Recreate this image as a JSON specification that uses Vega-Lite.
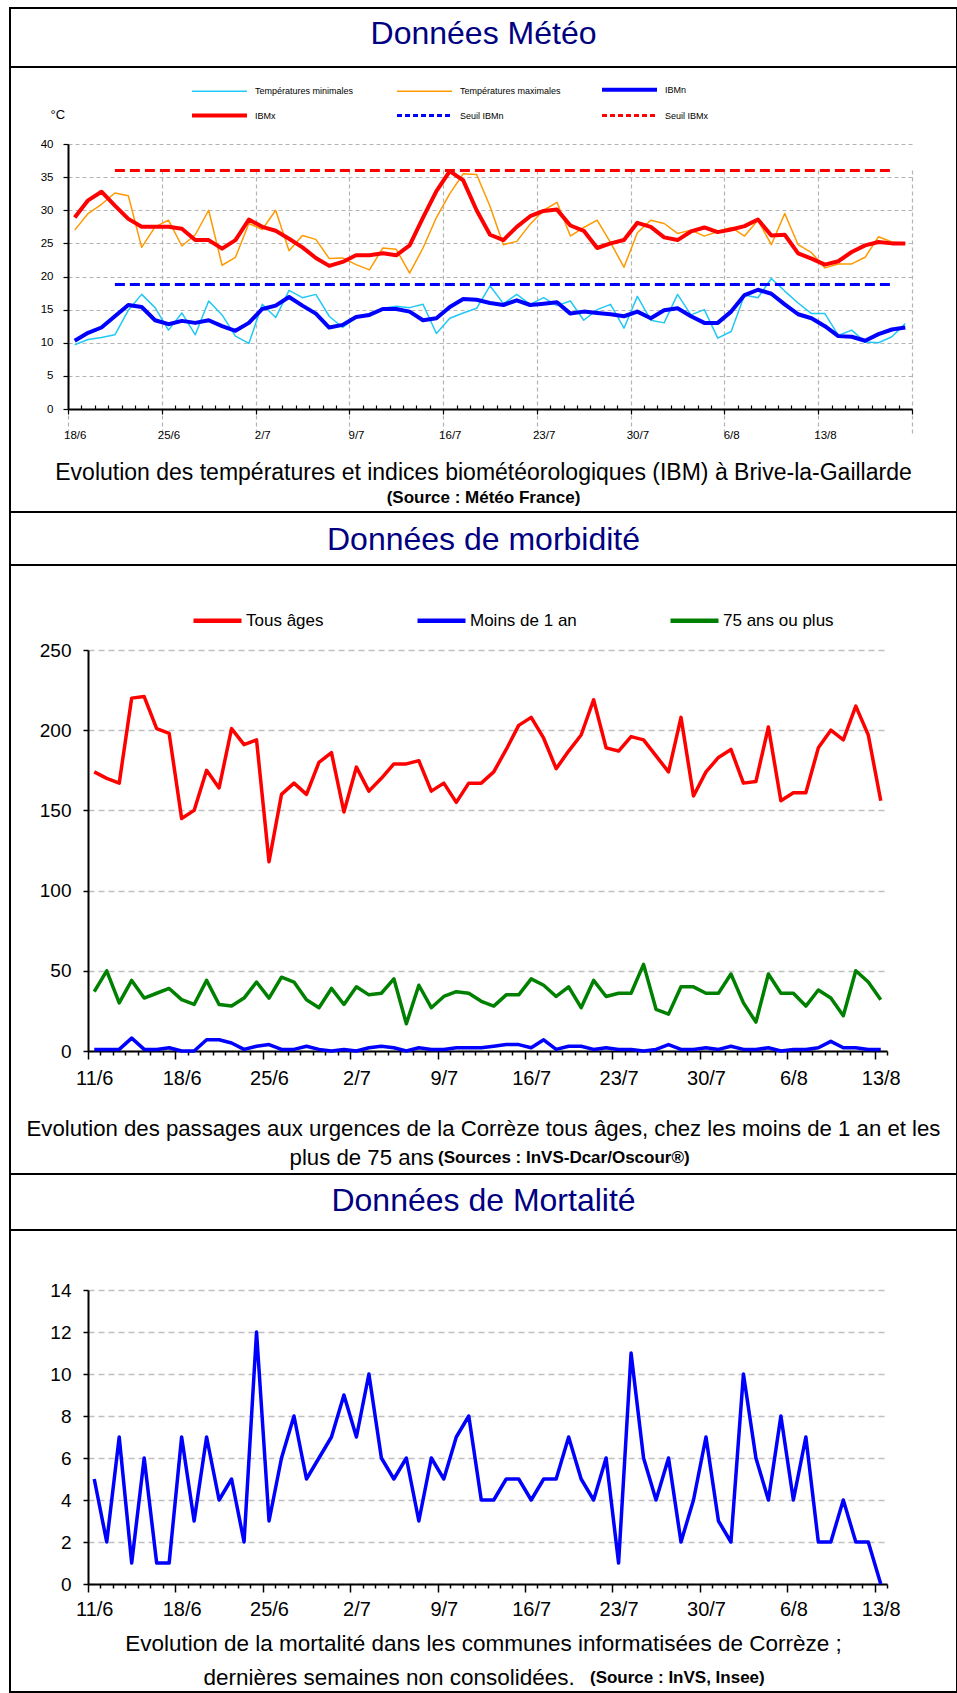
{
  "$schema": "https://vega.github.io/schema/vega-lite/v6.json",
  "background": "white",
  "padding": {"left": 9, "top": 7, "right": 0, "bottom": 0},
  "spacing": 0,
  "bounds": "flush",
  "resolve": {
    "scale": {"color": "independent"},
    "legend": {"color": "independent"}
  },
  "datasets": {
    "meteo": [
      {"date":"2012-06-18","tmin":9.7,"tmax":27.0,"ibmn":10.3,"ibmx":28.9},
      {"date":"2012-06-19","tmin":10.5,"tmax":29.5,"ibmn":11.5,"ibmx":31.5},
      {"date":"2012-06-20","tmin":10.8,"tmax":30.9,"ibmn":12.3,"ibmx":32.8},
      {"date":"2012-06-21","tmin":11.2,"tmax":32.6,"ibmn":14.0,"ibmx":30.7,"sibmn":18.8,"sibmx":36},
      {"date":"2012-06-22","tmin":14.9,"tmax":32.2,"ibmn":15.7,"ibmx":28.7},
      {"date":"2012-06-23","tmin":17.3,"tmax":24.4,"ibmn":15.4,"ibmx":27.5},
      {"date":"2012-06-24","tmin":15.3,"tmax":27.5,"ibmn":13.4,"ibmx":27.5},
      {"date":"2012-06-25","tmin":11.9,"tmax":28.5,"ibmn":12.8,"ibmx":27.5},
      {"date":"2012-06-26","tmin":14.5,"tmax":24.6,"ibmn":13.3,"ibmx":27.2},
      {"date":"2012-06-27","tmin":11.2,"tmax":26.3,"ibmn":13.0,"ibmx":25.5},
      {"date":"2012-06-28","tmin":16.3,"tmax":30.0,"ibmn":13.4,"ibmx":25.5},
      {"date":"2012-06-29","tmin":14.2,"tmax":21.7,"ibmn":12.5,"ibmx":24.2},
      {"date":"2012-06-30","tmin":11.0,"tmax":22.9,"ibmn":11.8,"ibmx":25.5},
      {"date":"2012-07-01","tmin":9.9,"tmax":28.0,"ibmn":13.0,"ibmx":28.6},
      {"date":"2012-07-02","tmin":15.8,"tmax":27.1,"ibmn":15.1,"ibmx":27.5},
      {"date":"2012-07-03","tmin":13.8,"tmax":30.0,"ibmn":15.6,"ibmx":26.9},
      {"date":"2012-07-04","tmin":17.9,"tmax":23.9,"ibmn":16.9,"ibmx":25.7},
      {"date":"2012-07-05","tmin":16.8,"tmax":26.2,"ibmn":15.6,"ibmx":24.4},
      {"date":"2012-07-06","tmin":17.3,"tmax":25.6,"ibmn":14.4,"ibmx":22.8},
      {"date":"2012-07-07","tmin":14.0,"tmax":22.7,"ibmn":12.3,"ibmx":21.6},
      {"date":"2012-07-08","tmin":12.3,"tmax":22.8,"ibmn":12.7,"ibmx":22.2},
      {"date":"2012-07-09","tmin":13.8,"tmax":21.8,"ibmn":13.9,"ibmx":23.2},
      {"date":"2012-07-10","tmin":14.4,"tmax":21.0,"ibmn":14.2,"ibmx":23.2},
      {"date":"2012-07-11","tmin":15.2,"tmax":24.3,"ibmn":15.1,"ibmx":23.5},
      {"date":"2012-07-12","tmin":15.5,"tmax":24.1,"ibmn":15.1,"ibmx":23.2},
      {"date":"2012-07-13","tmin":15.3,"tmax":20.5,"ibmn":14.7,"ibmx":24.7},
      {"date":"2012-07-14","tmin":15.8,"tmax":24.3,"ibmn":13.4,"ibmx":28.9},
      {"date":"2012-07-15","tmin":11.4,"tmax":28.9,"ibmn":13.7,"ibmx":32.9},
      {"date":"2012-07-16","tmin":13.7,"tmax":32.5,"ibmn":15.4,"ibmx":35.9},
      {"date":"2012-07-17","tmin":14.5,"tmax":35.5,"ibmn":16.6,"ibmx":34.5},
      {"date":"2012-07-18","tmin":15.2,"tmax":35.4,"ibmn":16.5,"ibmx":30.0},
      {"date":"2012-07-19","tmin":18.6,"tmax":30.6,"ibmn":16.0,"ibmx":26.3},
      {"date":"2012-07-20","tmin":15.9,"tmax":24.8,"ibmn":15.7,"ibmx":25.5},
      {"date":"2012-07-21","tmin":17.3,"tmax":25.3,"ibmn":16.4,"ibmx":27.5},
      {"date":"2012-07-22","tmin":15.8,"tmax":27.9,"ibmn":15.7,"ibmx":29.1},
      {"date":"2012-07-23","tmin":16.8,"tmax":30.0,"ibmn":15.9,"ibmx":29.9},
      {"date":"2012-07-24","tmin":15.6,"tmax":31.2,"ibmn":16.1,"ibmx":30.1},
      {"date":"2012-07-25","tmin":16.3,"tmax":26.1,"ibmn":14.4,"ibmx":27.7},
      {"date":"2012-07-26","tmin":13.4,"tmax":27.4,"ibmn":14.7,"ibmx":26.9},
      {"date":"2012-07-27","tmin":15.0,"tmax":28.5,"ibmn":14.5,"ibmx":24.3},
      {"date":"2012-07-28","tmin":15.8,"tmax":25.1,"ibmn":14.3,"ibmx":25.0},
      {"date":"2012-07-29","tmin":12.2,"tmax":21.4,"ibmn":14.0,"ibmx":25.5},
      {"date":"2012-07-30","tmin":17.0,"tmax":26.6,"ibmn":14.7,"ibmx":28.1},
      {"date":"2012-07-31","tmin":13.4,"tmax":28.5,"ibmn":13.7,"ibmx":27.5},
      {"date":"2012-08-01","tmin":13.0,"tmax":28.0,"ibmn":14.9,"ibmx":25.9},
      {"date":"2012-08-02","tmin":17.3,"tmax":26.5,"ibmn":15.2,"ibmx":25.5},
      {"date":"2012-08-03","tmin":14.2,"tmax":27.0,"ibmn":14.0,"ibmx":26.8},
      {"date":"2012-08-04","tmin":15.0,"tmax":26.1,"ibmn":13.0,"ibmx":27.4},
      {"date":"2012-08-05","tmin":10.7,"tmax":26.8,"ibmn":13.0,"ibmx":26.7},
      {"date":"2012-08-06","tmin":11.7,"tmax":27.4,"ibmn":14.7,"ibmx":27.1},
      {"date":"2012-08-07","tmin":17.2,"tmax":26.1,"ibmn":17.2,"ibmx":27.6},
      {"date":"2012-08-08","tmin":16.8,"tmax":28.5,"ibmn":18.0,"ibmx":28.6},
      {"date":"2012-08-09","tmin":19.7,"tmax":24.8,"ibmn":17.4,"ibmx":26.2},
      {"date":"2012-08-10","tmin":17.8,"tmax":29.5,"ibmn":15.8,"ibmx":26.3},
      {"date":"2012-08-11","tmin":16.0,"tmax":24.8,"ibmn":14.3,"ibmx":23.5},
      {"date":"2012-08-12","tmin":14.4,"tmax":23.6,"ibmn":13.7,"ibmx":22.7},
      {"date":"2012-08-13","tmin":14.4,"tmax":21.3,"ibmn":12.5,"ibmx":21.8},
      {"date":"2012-08-14","tmin":11.1,"tmax":21.9,"ibmn":11.0,"ibmx":22.3},
      {"date":"2012-08-15","tmin":11.9,"tmax":21.9,"ibmn":10.9,"ibmx":23.7},
      {"date":"2012-08-16","tmin":10.1,"tmax":22.9,"ibmn":10.3,"ibmx":24.7},
      {"date":"2012-08-17","tmin":10.0,"tmax":26.0,"ibmn":11.3,"ibmx":25.2},
      {"date":"2012-08-18","tmin":10.9,"tmax":25.2,"ibmn":12.0,"ibmx":25.0,"sibmn":18.8,"sibmx":36},
      {"date":"2012-08-19","tmin":12.9,"tmax":25.0,"ibmn":12.3,"ibmx":25.0}
    ],
    "morbidite": [
      {"date":"2012-06-11","tous":174,"moins1":1,"plus75":37},
      {"date":"2012-06-12","tous":170,"moins1":1,"plus75":50},
      {"date":"2012-06-13","tous":167,"moins1":1,"plus75":30},
      {"date":"2012-06-14","tous":220,"moins1":8,"plus75":44},
      {"date":"2012-06-15","tous":221,"moins1":1,"plus75":33},
      {"date":"2012-06-16","tous":201,"moins1":1,"plus75":36},
      {"date":"2012-06-17","tous":198,"moins1":2,"plus75":39},
      {"date":"2012-06-18","tous":145,"moins1":0,"plus75":32},
      {"date":"2012-06-19","tous":150,"moins1":0,"plus75":29},
      {"date":"2012-06-20","tous":175,"moins1":7,"plus75":44},
      {"date":"2012-06-21","tous":164,"moins1":7,"plus75":29},
      {"date":"2012-06-22","tous":201,"moins1":5,"plus75":28},
      {"date":"2012-06-23","tous":191,"moins1":1,"plus75":33},
      {"date":"2012-06-24","tous":194,"moins1":3,"plus75":43},
      {"date":"2012-06-25","tous":118,"moins1":4,"plus75":33},
      {"date":"2012-06-26","tous":160,"moins1":1,"plus75":46},
      {"date":"2012-06-27","tous":167,"moins1":1,"plus75":43},
      {"date":"2012-06-28","tous":160,"moins1":3,"plus75":32},
      {"date":"2012-06-29","tous":180,"moins1":1,"plus75":27},
      {"date":"2012-06-30","tous":186,"moins1":0,"plus75":39},
      {"date":"2012-07-01","tous":149,"moins1":1,"plus75":29},
      {"date":"2012-07-02","tous":177,"moins1":0,"plus75":40},
      {"date":"2012-07-03","tous":162,"moins1":2,"plus75":35},
      {"date":"2012-07-04","tous":170,"moins1":3,"plus75":36},
      {"date":"2012-07-05","tous":179,"moins1":2,"plus75":45},
      {"date":"2012-07-06","tous":179,"moins1":0,"plus75":17},
      {"date":"2012-07-07","tous":181,"moins1":2,"plus75":41},
      {"date":"2012-07-08","tous":162,"moins1":1,"plus75":27},
      {"date":"2012-07-09","tous":167,"moins1":1,"plus75":34},
      {"date":"2012-07-10","tous":155,"moins1":2,"plus75":37},
      {"date":"2012-07-11","tous":167,"moins1":2,"plus75":36},
      {"date":"2012-07-12","tous":167,"moins1":2,"plus75":31},
      {"date":"2012-07-13","tous":174,"moins1":3,"plus75":28},
      {"date":"2012-07-14","tous":188,"moins1":4,"plus75":35},
      {"date":"2012-07-15","tous":203,"moins1":4,"plus75":35},
      {"date":"2012-07-16","tous":208,"moins1":2,"plus75":45},
      {"date":"2012-07-17","tous":195,"moins1":7,"plus75":41},
      {"date":"2012-07-18","tous":176,"moins1":1,"plus75":34},
      {"date":"2012-07-19","tous":187,"moins1":3,"plus75":40},
      {"date":"2012-07-20","tous":197,"moins1":3,"plus75":27},
      {"date":"2012-07-21","tous":219,"moins1":1,"plus75":44},
      {"date":"2012-07-22","tous":189,"moins1":2,"plus75":34},
      {"date":"2012-07-23","tous":187,"moins1":1,"plus75":36},
      {"date":"2012-07-24","tous":196,"moins1":1,"plus75":36},
      {"date":"2012-07-25","tous":194,"moins1":0,"plus75":54},
      {"date":"2012-07-26","tous":184,"moins1":1,"plus75":26},
      {"date":"2012-07-27","tous":174,"moins1":4,"plus75":23},
      {"date":"2012-07-28","tous":208,"moins1":1,"plus75":40},
      {"date":"2012-07-29","tous":159,"moins1":1,"plus75":40},
      {"date":"2012-07-30","tous":174,"moins1":2,"plus75":36},
      {"date":"2012-07-31","tous":183,"moins1":1,"plus75":36},
      {"date":"2012-08-01","tous":188,"moins1":3,"plus75":48},
      {"date":"2012-08-02","tous":167,"moins1":1,"plus75":30},
      {"date":"2012-08-03","tous":168,"moins1":1,"plus75":18},
      {"date":"2012-08-04","tous":202,"moins1":2,"plus75":48},
      {"date":"2012-08-05","tous":156,"moins1":0,"plus75":36},
      {"date":"2012-08-06","tous":161,"moins1":1,"plus75":36},
      {"date":"2012-08-07","tous":161,"moins1":1,"plus75":28},
      {"date":"2012-08-08","tous":189,"moins1":2,"plus75":38},
      {"date":"2012-08-09","tous":200,"moins1":6,"plus75":33},
      {"date":"2012-08-10","tous":194,"moins1":2,"plus75":22},
      {"date":"2012-08-11","tous":215,"moins1":2,"plus75":50},
      {"date":"2012-08-12","tous":197,"moins1":1,"plus75":43},
      {"date":"2012-08-13","tous":156,"moins1":1,"plus75":32}
    ],
    "mortalite": [
      {"date":"2012-06-11","deces":5},{"date":"2012-06-12","deces":2},{"date":"2012-06-13","deces":7},
      {"date":"2012-06-14","deces":1},{"date":"2012-06-15","deces":6},{"date":"2012-06-16","deces":1},
      {"date":"2012-06-17","deces":1},{"date":"2012-06-18","deces":7},{"date":"2012-06-19","deces":3},
      {"date":"2012-06-20","deces":7},{"date":"2012-06-21","deces":4},{"date":"2012-06-22","deces":5},
      {"date":"2012-06-23","deces":2},{"date":"2012-06-24","deces":12},{"date":"2012-06-25","deces":3},
      {"date":"2012-06-26","deces":6},{"date":"2012-06-27","deces":8},{"date":"2012-06-28","deces":5},
      {"date":"2012-06-29","deces":6},{"date":"2012-06-30","deces":7},{"date":"2012-07-01","deces":9},
      {"date":"2012-07-02","deces":7},{"date":"2012-07-03","deces":10},{"date":"2012-07-04","deces":6},
      {"date":"2012-07-05","deces":5},{"date":"2012-07-06","deces":6},{"date":"2012-07-07","deces":3},
      {"date":"2012-07-08","deces":6},{"date":"2012-07-09","deces":5},{"date":"2012-07-10","deces":7},
      {"date":"2012-07-11","deces":8},{"date":"2012-07-12","deces":4},{"date":"2012-07-13","deces":4},
      {"date":"2012-07-14","deces":5},{"date":"2012-07-15","deces":5},{"date":"2012-07-16","deces":4},
      {"date":"2012-07-17","deces":5},{"date":"2012-07-18","deces":5},{"date":"2012-07-19","deces":7},
      {"date":"2012-07-20","deces":5},{"date":"2012-07-21","deces":4},{"date":"2012-07-22","deces":6},
      {"date":"2012-07-23","deces":1},{"date":"2012-07-24","deces":11},{"date":"2012-07-25","deces":6},
      {"date":"2012-07-26","deces":4},{"date":"2012-07-27","deces":6},{"date":"2012-07-28","deces":2},
      {"date":"2012-07-29","deces":4},{"date":"2012-07-30","deces":7},{"date":"2012-07-31","deces":3},
      {"date":"2012-08-01","deces":2},{"date":"2012-08-02","deces":10},{"date":"2012-08-03","deces":6},
      {"date":"2012-08-04","deces":4},{"date":"2012-08-05","deces":8},{"date":"2012-08-06","deces":4},
      {"date":"2012-08-07","deces":7},{"date":"2012-08-08","deces":2},{"date":"2012-08-09","deces":2},
      {"date":"2012-08-10","deces":4},{"date":"2012-08-11","deces":2},{"date":"2012-08-12","deces":2},
      {"date":"2012-08-13","deces":0}
    ]
  },
  "vconcat": [
    {
      "width": 947, "height": 59,
      "view": {"stroke": "#000000", "strokeWidth": 2},
      "data": {"values": [{"titre": "Données Météo"}]},
      "mark": {"type": "text", "font": "Liberation Sans, Arial, sans-serif", "fontSize": 32, "color": "#000080", "baseline": "alphabetic", "align": "center", "dy": 6.5},
      "encoding": {"text": {"field": "titre"}}
    },
    {
      "width": 947, "height": 445,
      "view": {"stroke": "#000000", "strokeWidth": 2},
      "layer": [
        {
          "data": {"name": "meteo"},
          "transform": [{"fold": ["tmin", "tmax"], "as": ["serie", "valeur"]}],
          "mark": {"type": "line", "strokeWidth": 1.5, "strokeJoin": "round"},
          "encoding": {
            "x": {
              "field": "date", "type": "temporal", "timeUnit": "utcyearmonthdate", "bandPosition": 0.5,
              "scale": {"type": "utc", "domain": [{"year": 2012, "month": 6, "date": 18, "utc": true}, {"year": 2012, "month": 8, "date": 20, "utc": true}], "range": [58, 902]},
              "axis": {
                "orient": "bottom", "offset": -103, "title": null,
                "tickCount": {"interval": "day", "step": 1},
                "labelExpr": "utcday(datum.value) === 1 && datum.value < utc(2012, 7, 20) ? utcFormat(datum.value, '%-d/%-m') : ''",
                "labelOffset": 6.7, "labelPadding": 15,
                "labelFont": "Liberation Sans, Arial, sans-serif", "labelFontSize": 11.5, "labelColor": "#000000",
                "labelOverlap": false, "labelFlush": false, "labelBound": false,
                "domainColor": "#000000", "domainWidth": 2,
                "tickColor": "#000000", "tickWidth": 1.2,
                "tickSize": {"condition": {"test": "utcday(datum.value) === 1", "value": 5}, "value": -4},
                "grid": true, "gridColor": "#b4b4b4", "gridDash": [4, 3], "gridWidth": 1.2,
                "gridOpacity": {"condition": {"test": "utcday(datum.value) === 1", "value": 1}, "value": 0}
              }
            },
            "y": {
              "field": "valeur", "type": "quantitative",
              "scale": {"domain": [0, 40], "range": [342, 77], "nice": false, "zero": false},
              "axis": {
                "offset": -58, "values": [0, 5, 10, 15, 20, 25, 30, 35, 40],
                "title": "°C", "titleAngle": 0, "titleX": -18, "titleY": 47, "titleAlign": "left", "titleBaseline": "middle",
                "titleFont": "Liberation Sans, Arial, sans-serif", "titleFontSize": 13, "titleFontWeight": "normal", "titleColor": "#000000",
                "labelFont": "Liberation Sans, Arial, sans-serif", "labelFontSize": 11.5, "labelColor": "#000000", "labelPadding": 10,
                "tickSize": 5, "tickColor": "#000000", "tickWidth": 1.2,
                "domainColor": "#000000", "domainWidth": 2,
                "grid": true, "gridColor": "#b4b4b4", "gridDash": [4, 3], "gridWidth": 1.2
              }
            },
            "color": {
              "field": "serie", "type": "nominal",
              "scale": {"domain": ["tmin", "tmax", "ibmn", "ibmx", "sibmn", "sibmx"], "range": ["#22c8f5", "#ff9900", "#0000ff", "#ff0000", "#0000ff", "#ff0000"]},
              "legend": {
                "orient": "none", "legendX": 205, "legendY": 18, "title": null, "padding": 0,
                "direction": "horizontal", "columns": 3, "gridAlign": "all", "columnPadding": 33, "rowPadding": 9,
                "symbolType": "M-4.4,0H4.4", "symbolSize": 156, "labelOffset": 31,
                "labelFont": "Liberation Sans, Arial, sans-serif", "labelFontSize": 9, "labelColor": "#000000",
                "labelExpr": "{'tmin': 'Températures minimales', 'tmax': 'Températures maximales', 'ibmn': 'IBMn', 'ibmx': 'IBMx', 'sibmn': 'Seuil IBMn', 'sibmx': 'Seuil IBMx'}[datum.label]",
                "encode": {
                  "symbols": {
                    "update": {
                      "strokeWidth": {"signal": "datum.value === 'ibmn' || datum.value === 'ibmx' ? 4 : (datum.value === 'sibmn' || datum.value === 'sibmx' ? 3 : 1.5)"},
                      "strokeDash": {"signal": "datum.value === 'sibmn' || datum.value === 'sibmx' ? [5, 3] : [1, 0]"}
                    }
                  }
                }
              }
            }
          }
        },
        {
          "data": {"name": "meteo"},
          "transform": [{"fold": ["ibmn", "ibmx"], "as": ["serie", "valeur"]}],
          "mark": {"type": "line", "strokeWidth": 4, "strokeJoin": "round"},
          "encoding": {
            "x": {"field": "date", "type": "temporal", "timeUnit": "utcyearmonthdate", "bandPosition": 0.5},
            "y": {"field": "valeur", "type": "quantitative"},
            "color": {"field": "serie", "type": "nominal"}
          }
        },
        {
          "data": {"name": "meteo"},
          "transform": [{"fold": ["sibmn", "sibmx"], "as": ["serie", "valeur"]}, {"filter": "isValid(datum.valeur)"}],
          "mark": {"type": "line", "strokeWidth": 3, "strokeDash": [10, 5]},
          "encoding": {
            "x": {"field": "date", "type": "temporal", "timeUnit": "utcyearmonthdate", "bandPosition": 0.5},
            "y": {"field": "valeur", "type": "quantitative"},
            "color": {"field": "serie", "type": "nominal"}
          }
        },
        {
          "data": {"values": [{}]},
          "mark": {"type": "text", "text": "Evolution des températures et indices biométéorologiques (IBM) à Brive-la-Gaillarde", "font": "Liberation Sans, Arial, sans-serif", "fontSize": 23, "color": "#000000", "align": "center", "baseline": "middle"},
          "encoding": {"y": {"datum": -9.66}}
        },
        {
          "data": {"values": [{}]},
          "mark": {"type": "text", "text": "(Source : Météo France)", "font": "Liberation Sans, Arial, sans-serif", "fontSize": 17, "fontWeight": "bold", "color": "#000000", "align": "center", "baseline": "middle"},
          "encoding": {"y": {"datum": -13.43}}
        }
      ]
    },
    {
      "width": 947, "height": 53,
      "view": {"stroke": "#000000", "strokeWidth": 2},
      "data": {"values": [{"titre": "Données de morbidité"}]},
      "mark": {"type": "text", "font": "Liberation Sans, Arial, sans-serif", "fontSize": 32, "color": "#000080", "baseline": "alphabetic", "align": "center", "dy": 11.5},
      "encoding": {"text": {"field": "titre"}}
    },
    {
      "width": 947, "height": 609,
      "view": {"stroke": "#000000", "strokeWidth": 2},
      "layer": [
        {
          "data": {"name": "morbidite"},
          "transform": [{"fold": ["tous", "moins1", "plus75"], "as": ["groupe", "passages"]}],
          "mark": {"type": "line", "strokeWidth": 3.5, "strokeJoin": "round"},
          "encoding": {
            "x": {
              "field": "date", "type": "temporal", "timeUnit": "utcyearmonthdate", "bandPosition": 0.5,
              "scale": {"type": "utc", "domain": [{"year": 2012, "month": 6, "date": 11, "utc": true}, {"year": 2012, "month": 8, "date": 14, "utc": true}], "range": [78, 877]},
              "axis": {
                "orient": "bottom", "offset": -123, "title": null,
                "tickCount": {"interval": "day", "step": 1},
                "labelExpr": "utcday(datum.value) === 1 ? utcFormat(datum.value, '%-d/%-m') : ''",
                "labelOffset": 6.24, "labelPadding": 9,
                "labelFont": "Liberation Sans, Arial, sans-serif", "labelFontSize": 20, "labelColor": "#000000",
                "labelOverlap": false, "labelFlush": false, "labelBound": false,
                "domainColor": "#000000", "domainWidth": 2,
                "tickColor": "#000000", "tickWidth": 1.5,
                "tickSize": {"condition": {"test": "utcday(datum.value) === 1", "value": 8}, "value": 4},
                "grid": false
              }
            },
            "y": {
              "field": "passages", "type": "quantitative",
              "scale": {"domain": [0, 250], "range": [486, 85], "nice": false, "zero": false},
              "axis": {
                "offset": -78, "values": [0, 50, 100, 150, 200, 250], "title": null,
                "labelFont": "Liberation Sans, Arial, sans-serif", "labelFontSize": 19, "labelColor": "#000000", "labelPadding": 12,
                "tickSize": 5, "tickColor": "#000000", "tickWidth": 1.5,
                "domainColor": "#000000", "domainWidth": 2,
                "grid": true, "gridColor": "#c0c0c0", "gridDash": [6, 4], "gridWidth": 1.5
              }
            },
            "color": {
              "field": "groupe", "type": "nominal",
              "scale": {"domain": ["tous", "moins1", "plus75"], "range": ["#ff0000", "#0000ff", "#008000"]},
              "legend": {
                "orient": "none", "legendX": 199, "legendY": 47, "title": null, "padding": 0,
                "direction": "horizontal", "columns": 3, "gridAlign": "each", "columnPadding": 84,
                "symbolType": "M-4,0H4", "symbolSize": 144, "symbolStrokeWidth": 4.5, "labelOffset": 20,
                "labelFont": "Liberation Sans, Arial, sans-serif", "labelFontSize": 17, "labelColor": "#000000",
                "labelExpr": "{'tous': 'Tous âges', 'moins1': 'Moins de 1 an', 'plus75': '75 ans ou plus'}[datum.label]"
              }
            }
          }
        },
        {
          "data": {"values": [{}]},
          "mark": {"type": "text", "text": "Evolution des passages aux urgences de la Corrèze tous âges, chez les moins de 1 an et les", "font": "Liberation Sans, Arial, sans-serif", "fontSize": 22.2, "color": "#000000", "align": "center", "baseline": "middle"},
          "encoding": {"y": {"datum": -48.6}}
        },
        {
          "data": {"values": [{}]},
          "mark": {"type": "text", "text": "plus de 75 ans", "font": "Liberation Sans, Arial, sans-serif", "fontSize": 22.2, "color": "#000000", "align": "right", "baseline": "middle"},
          "encoding": {
            "x": {"datum": {"year": 2012, "month": 7, "date": 8, "hours": 17, "utc": true}, "type": "temporal", "scale": {"type": "utc"}},
            "y": {"datum": -66.7}
          }
        },
        {
          "data": {"values": [{}]},
          "mark": {"type": "text", "text": "(Sources : InVS-Dcar/Oscour®)", "font": "Liberation Sans, Arial, sans-serif", "fontSize": 17, "fontWeight": "bold", "color": "#000000", "align": "left", "baseline": "middle"},
          "encoding": {
            "x": {"datum": {"year": 2012, "month": 7, "date": 9, "hours": 1, "utc": true}, "type": "temporal", "scale": {"type": "utc"}},
            "y": {"datum": -66.7}
          }
        }
      ]
    },
    {
      "width": 947, "height": 56,
      "view": {"stroke": "#000000", "strokeWidth": 2},
      "data": {"values": [{"titre": "Données de Mortalité"}]},
      "mark": {"type": "text", "font": "Liberation Sans, Arial, sans-serif", "fontSize": 32, "color": "#000080", "baseline": "alphabetic", "align": "center", "dy": 9},
      "encoding": {"text": {"field": "titre"}}
    },
    {
      "width": 947, "height": 462,
      "view": {"stroke": "#000000", "strokeWidth": 2},
      "layer": [
        {
          "data": {"name": "mortalite"},
          "mark": {"type": "line", "strokeWidth": 3.5, "color": "#0000ff", "strokeJoin": "round"},
          "encoding": {
            "x": {
              "field": "date", "type": "temporal", "timeUnit": "utcyearmonthdate", "bandPosition": 0.5,
              "scale": {"type": "utc", "domain": [{"year": 2012, "month": 6, "date": 11, "utc": true}, {"year": 2012, "month": 8, "date": 14, "utc": true}], "range": [78, 877]},
              "axis": {
                "orient": "bottom", "offset": -108, "title": null,
                "tickCount": {"interval": "day", "step": 1},
                "labelExpr": "utcday(datum.value) === 1 ? utcFormat(datum.value, '%-d/%-m') : ''",
                "labelOffset": 6.24, "labelPadding": 7,
                "labelFont": "Liberation Sans, Arial, sans-serif", "labelFontSize": 20, "labelColor": "#000000",
                "labelOverlap": false, "labelFlush": false, "labelBound": false,
                "domainColor": "#000000", "domainWidth": 2,
                "tickColor": "#000000", "tickWidth": 1.5,
                "tickSize": {"condition": {"test": "utcday(datum.value) === 1", "value": 8}, "value": 4},
                "grid": false
              }
            },
            "y": {
              "field": "deces", "type": "quantitative",
              "scale": {"domain": [0, 14], "range": [354, 60], "nice": false, "zero": false},
              "axis": {
                "offset": -78, "values": [0, 2, 4, 6, 8, 10, 12, 14], "title": null,
                "labelFont": "Liberation Sans, Arial, sans-serif", "labelFontSize": 19, "labelColor": "#000000", "labelPadding": 12,
                "tickSize": 5, "tickColor": "#000000", "tickWidth": 1.5,
                "domainColor": "#000000", "domainWidth": 2,
                "grid": true, "gridColor": "#c0c0c0", "gridDash": [6, 4], "gridWidth": 1.5
              }
            }
          }
        },
        {
          "data": {"values": [{}]},
          "mark": {"type": "text", "text": "Evolution de la mortalité dans les communes informatisées de Corrèze ;", "font": "Liberation Sans, Arial, sans-serif", "fontSize": 22.5, "color": "#000000", "align": "center", "baseline": "middle"},
          "encoding": {"y": {"datum": -2.857}}
        },
        {
          "data": {"values": [{}]},
          "mark": {"type": "text", "text": "dernières semaines non consolidées.", "font": "Liberation Sans, Arial, sans-serif", "fontSize": 22.5, "color": "#000000", "align": "right", "baseline": "middle"},
          "encoding": {
            "x": {"datum": {"year": 2012, "month": 7, "date": 20, "hours": 0, "utc": true}, "type": "temporal", "scale": {"type": "utc"}},
            "y": {"datum": -4.476}
          }
        },
        {
          "data": {"values": [{}]},
          "mark": {"type": "text", "text": "(Source : InVS, Insee)", "font": "Liberation Sans, Arial, sans-serif", "fontSize": 17, "fontWeight": "bold", "color": "#000000", "align": "left", "baseline": "middle"},
          "encoding": {
            "x": {"datum": {"year": 2012, "month": 7, "date": 21, "hours": 5, "utc": true}, "type": "temporal", "scale": {"type": "utc"}},
            "y": {"datum": -4.476}
          }
        }
      ]
    }
  ]
}
